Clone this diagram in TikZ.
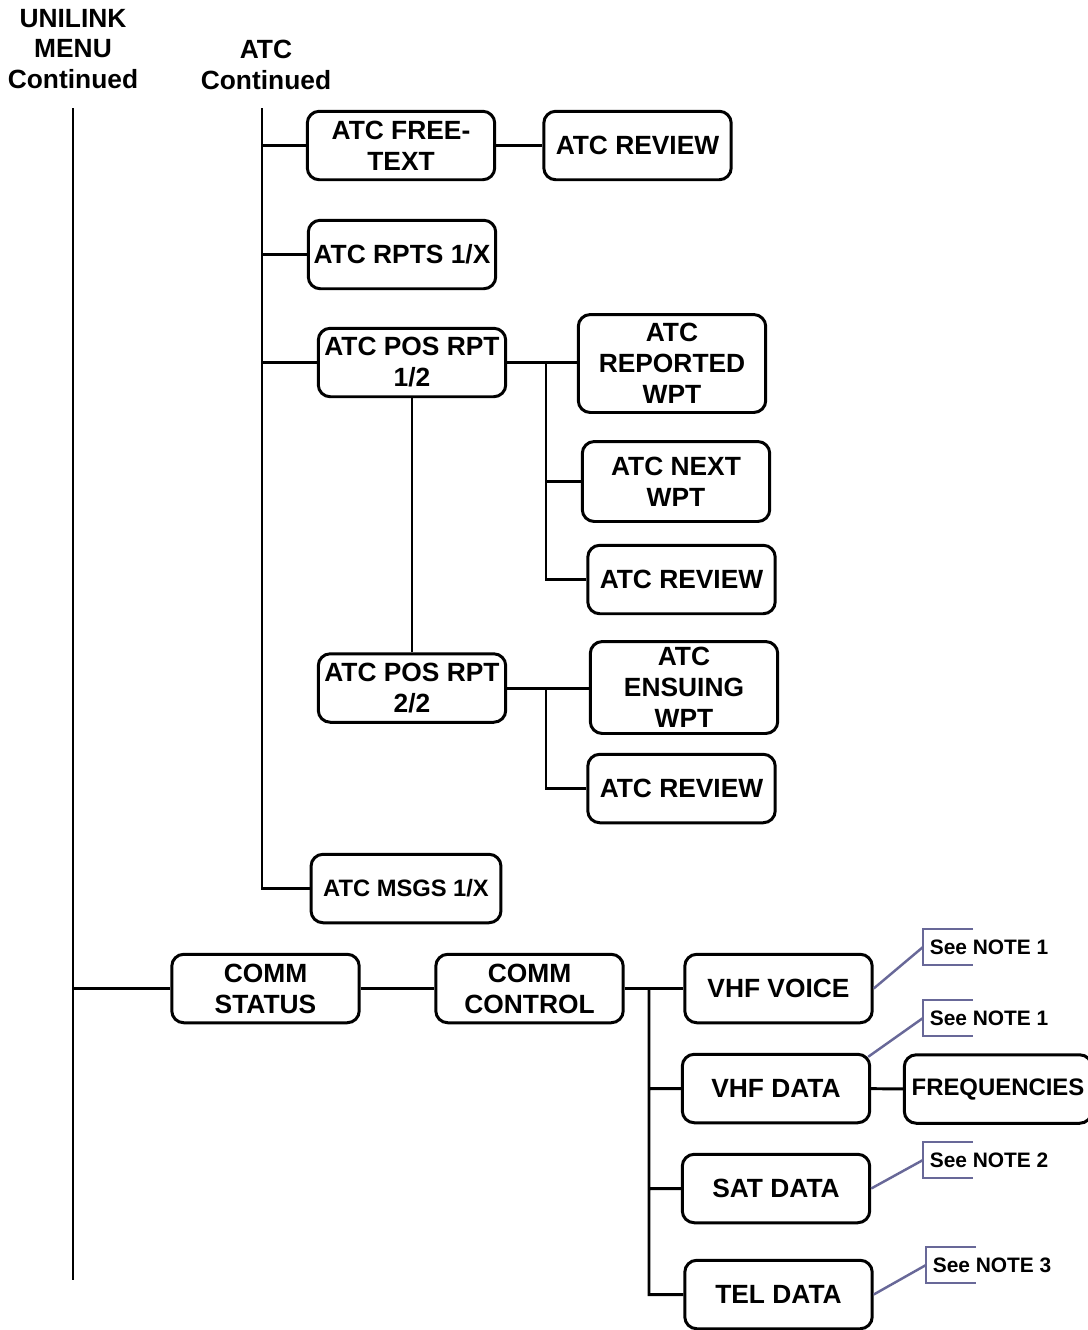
\documentclass[tikz,border=0pt]{standalone}
\usepackage{fontspec}
\setmainfont{Liberation Sans}
\usetikzlibrary{positioning}
\definecolor{notecol}{RGB}{104,104,152}
\tikzset{
  boite/.style={draw, rounded corners=0.24cm, line width=1.7pt, minimum width=3.75cm, minimum height=1.37cm,
    align=center, inner xsep=0pt, font=\fontsize{15}{17.6}\selectfont\bfseries},
  titre/.style={align=center, font=\fontsize{15}{17.6}\selectfont\bfseries},
  note/.style={inner sep=0pt, font=\fontsize{11.9}{13}\selectfont\bfseries},
  lien/.style={line width=1.7pt},
  renvoi/.style={draw=notecol, line width=1.4pt}
}
\begin{document}
\begin{tikzpicture}[x=0.02cm, y=-0.02cm]
\useasboundingbox (0,0) rectangle (1088,1330);
\node[titre] (unilink) at (73,49) {UNILINK\\MENU\\Continued};
\node[titre] (atc) at (266,65) {ATC\\Continued};
% Menu ATC
\node[boite] (free) at (401,145.5) {ATC FREE-\\TEXT};
\node[boite] (rev1) at (637.5,145.5) {ATC REVIEW};
\node[boite] (rpts) at (402,254.5) {ATC RPTS 1/X};
\node[boite] (pos1) at (412,362.5) {ATC POS RPT\\1/2};
\node[boite, minimum height=1.96cm] (repwpt) at (672,363.5) {ATC\\REPORTED\\WPT};
\node[boite, minimum height=1.6cm] (nextwpt) at (676,481.5) {ATC NEXT\\WPT};
\node[boite] (rev2) at (681.5,579.5) {ATC REVIEW};
\node[boite] (pos2) at (412,688) {ATC POS RPT\\2/2};
\node[boite, minimum height=1.84cm] (enswpt) at (684,687.5) {ATC\\ENSUING\\WPT};
\node[boite] (rev3) at (681.5,788.5) {ATC REVIEW};
\node[boite, minimum width=3.8cm, font=\fontsize{13.5}{16}\selectfont\bfseries] (msgs) at (406,888.5) {ATC MSGS 1/X};
% Menu COMM
\node[boite] (cstat) at (265.5,988.5) {COMM\\STATUS};
\node[boite] (cctrl) at (529.5,988.5) {COMM\\CONTROL};
\node[boite] (voice) at (778.5,988.5) {VHF VOICE};
\node[boite] (vdata) at (776,1088.5) {VHF DATA};
\node[boite, font=\fontsize{13.6}{16}\selectfont\bfseries] (freq) at (998,1089) {FREQUENCIES};
\node[boite] (sat) at (776,1188.5) {SAT DATA};
\node[boite] (tel) at (778.5,1294.5) {TEL DATA};
% Liaisons
\coordinate (u) at (73,108); \coordinate (uend) at (73,1280);
\coordinate (a) at (262,108); \coordinate (p) at (546,0); \coordinate (c) at (649,0);
\draw[lien] (u) -- (uend);
\draw[lien] (a) |- (msgs.west);
\draw[lien] (a |- free) -- (free.west) (free) -- (rev1) (a |- rpts) -- (rpts.west) (a |- pos1) -- (pos1.west);
\draw[lien] (pos1) -- (pos2) (pos1.east) -- (pos1.east -| repwpt.west) (p |- pos1) |- (rev2.west) (p |- nextwpt) -- (nextwpt.west);
\draw[lien] (pos2.east) -- (pos2.east -| enswpt.west) (p |- pos2) |- (rev3.west);
\draw[lien] (u |- cstat) -- (cstat) -- (cctrl) -- (voice);
\draw[lien] (c |- cctrl) |- (tel.west) (c |- vdata) -- (vdata.west) (c |- sat) -- (sat.west) (vdata) -- (freq);
% Renvois aux notes
\coordinate (b1) at (923,947); \coordinate (b2) at (923,1018);
\coordinate (b3) at (923,1160); \coordinate (b4) at (926,1265);
\node[note, right=0.13cm of b1] (n1) {See NOTE 1};
\node[note, right=0.13cm of b2] (n2) {See NOTE 1};
\node[note, right=0.13cm of b3] (n3) {See NOTE 2};
\node[note, right=0.13cm of b4] (n4) {See NOTE 3};
\draw[renvoi] (voice.east) -- (b1) ([shift={(-3,4)}]vdata.north east) -- (b2) (sat.east) -- (b3) (tel.east) -- (b4);
\foreach \b in {b1,b2,b3,b4}
  \draw[renvoi] ([shift={(50,-18)}]\b) -| ([shift={(0,18)}]\b) -- ++(50,0);
\end{tikzpicture}
\end{document}
